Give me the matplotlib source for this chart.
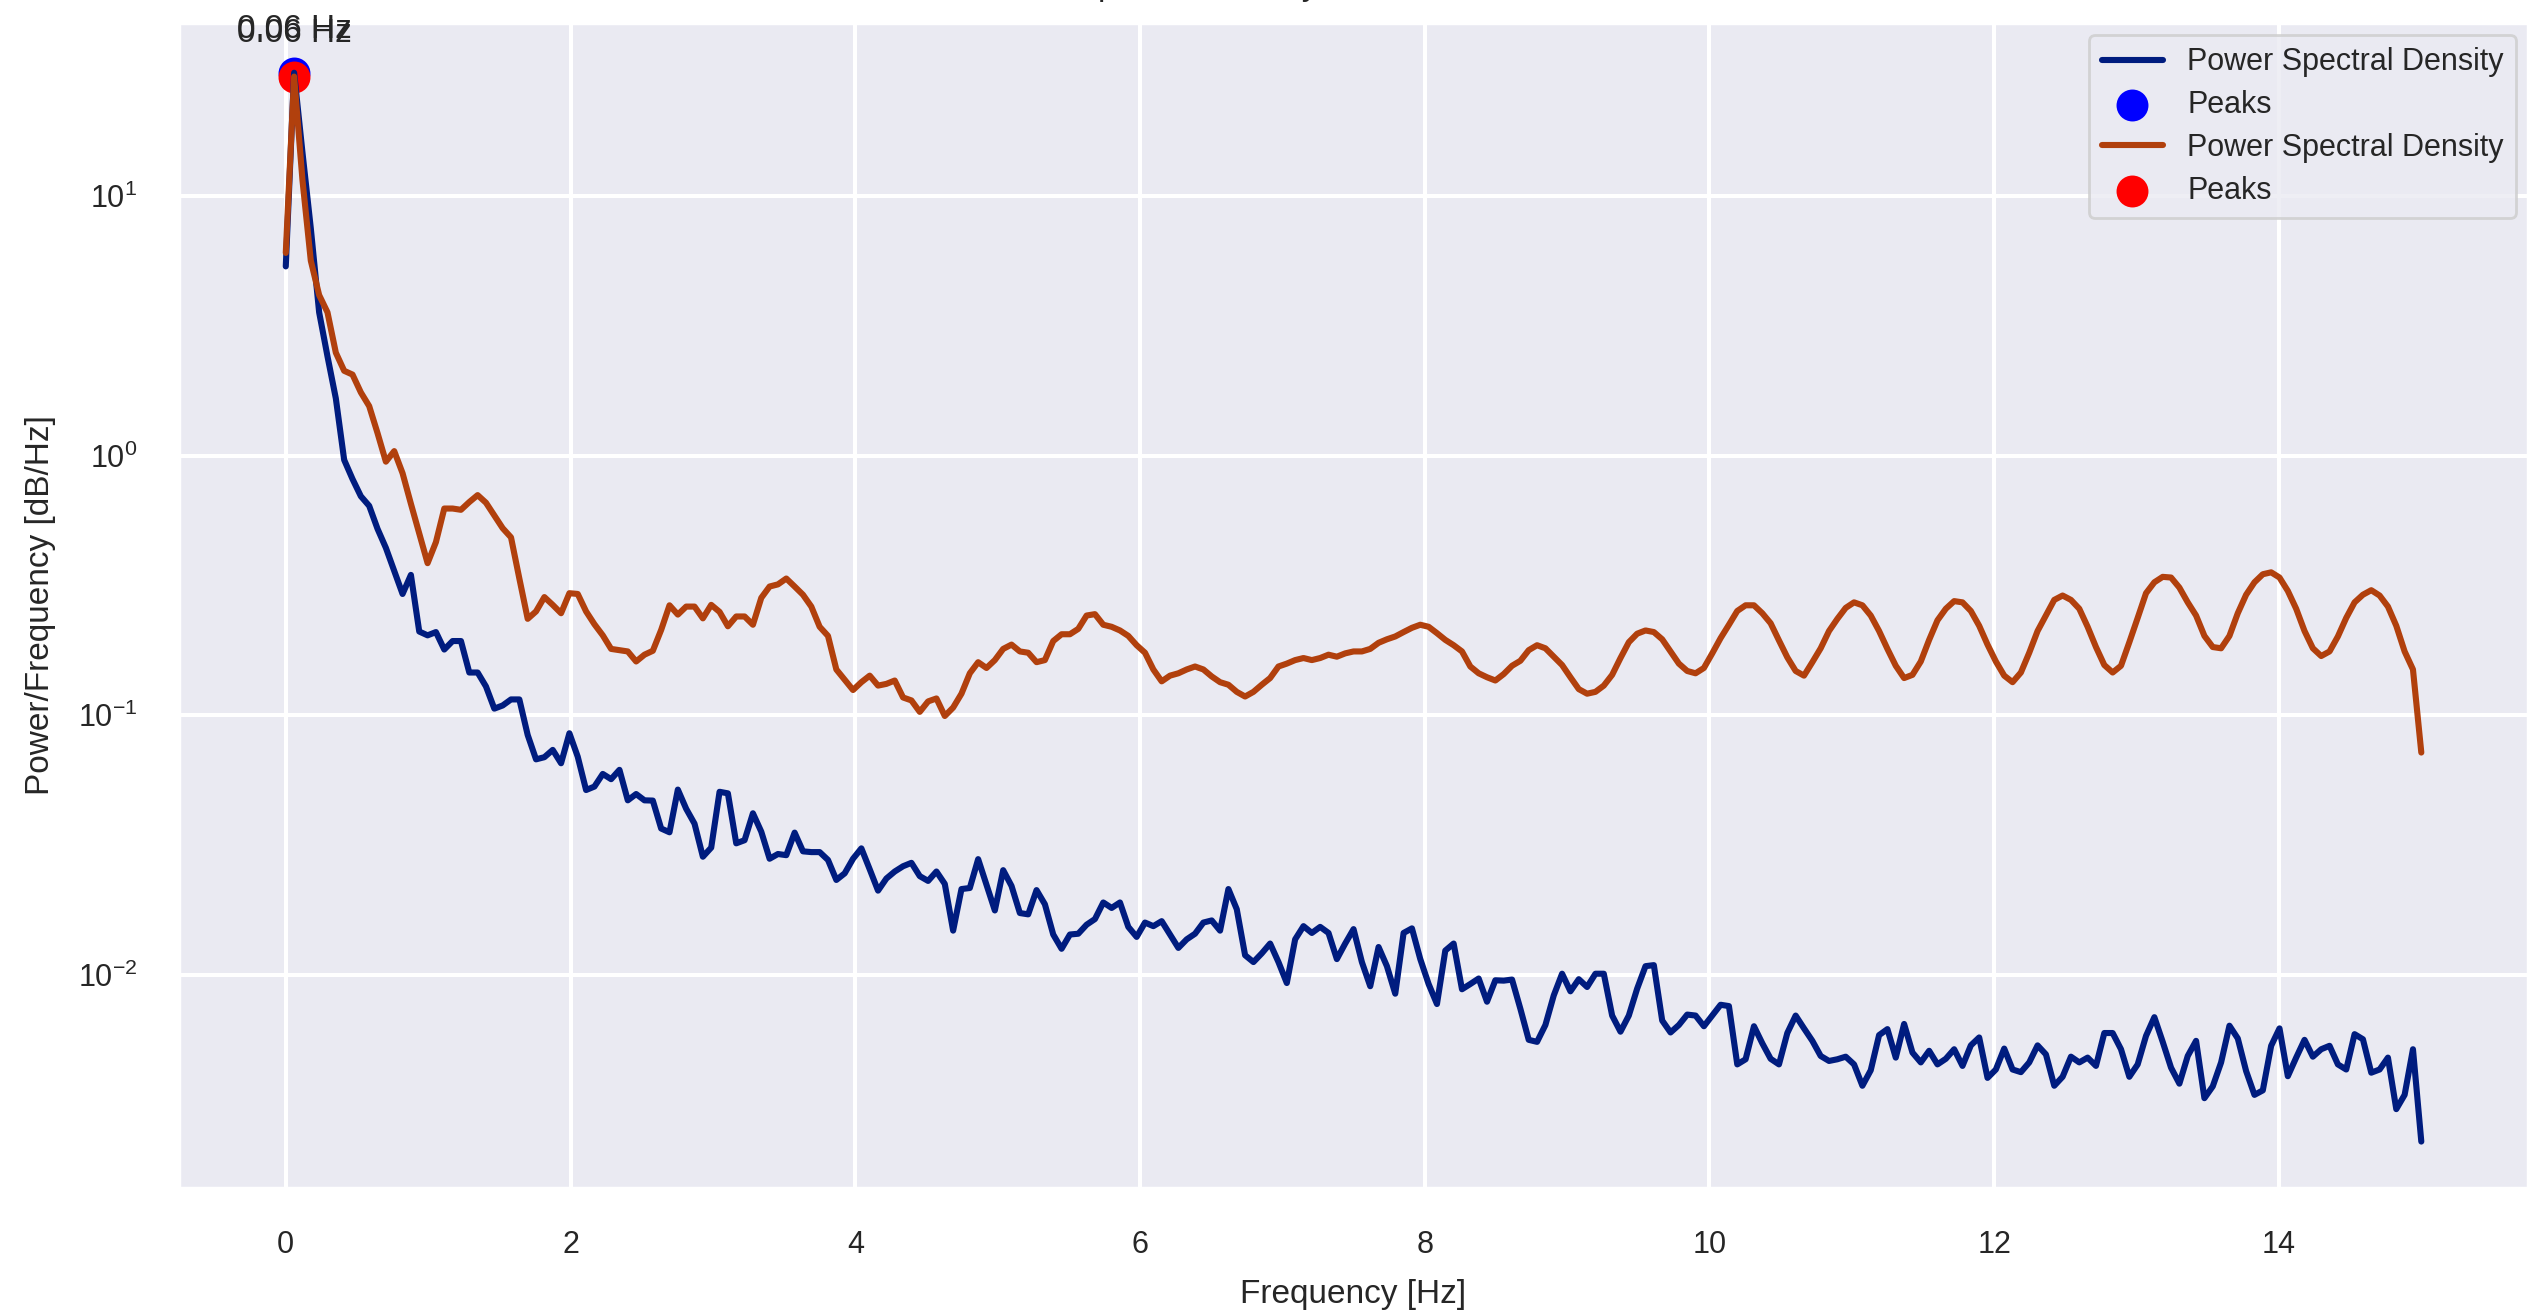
import numpy as np
import matplotlib
matplotlib.use("Agg")
import matplotlib.pyplot as plt
import seaborn as sns

# PSD values (257 Welch bins, 0..15 Hz)
psd_a = [
    5.35, 29.8, 14.7, 7.5, 3.56, 2.41, 1.66, 0.962, 0.812, 0.697,
    0.640, 0.522, 0.441, 0.359, 0.293, 0.347, 0.210, 0.203, 0.209, 0.179,
    0.193, 0.193, 0.146, 0.146, 0.129, 0.106, 0.109, 0.115, 0.115, 0.0839,
    0.0676, 0.0689, 0.0735, 0.0653, 0.0852, 0.0692, 0.0515, 0.0531, 0.0594, 0.0567,
    0.0616, 0.0470, 0.0497, 0.0470, 0.0469, 0.0366, 0.0354, 0.0517, 0.0436, 0.0382,
    0.0285, 0.0309, 0.0507, 0.0500, 0.0321, 0.0330, 0.0419, 0.0356, 0.0280, 0.0292,
    0.0289, 0.0353, 0.0299, 0.0297, 0.0297, 0.0277, 0.0232, 0.0246, 0.0280, 0.0307,
    0.0255, 0.0211, 0.0235, 0.0250, 0.0262, 0.0270, 0.0240, 0.0230, 0.0250, 0.0224,
    0.0148, 0.0214, 0.0216, 0.0279, 0.0222, 0.0177, 0.0253, 0.0220, 0.0173, 0.0171,
    0.0212, 0.0187, 0.0143, 0.0126, 0.0143, 0.0144, 0.0156, 0.0164, 0.0190, 0.0181,
    0.0190, 0.0153, 0.0140, 0.0159, 0.0154, 0.0161, 0.0143, 0.0127, 0.0137, 0.0144,
    0.0159, 0.0162, 0.0148, 0.0214, 0.0179, 0.0119, 0.0112, 0.0121, 0.0132, 0.0112,
    0.00930, 0.0137, 0.0154, 0.0145, 0.0153, 0.0145, 0.0115, 0.0132, 0.0150, 0.0112,
    0.00904, 0.0128, 0.0108, 0.00846, 0.0145, 0.0151, 0.0115, 0.00922, 0.00772, 0.0124,
    0.0132, 0.00880, 0.00922, 0.00968, 0.00788, 0.00953, 0.00950, 0.00959, 0.00740, 0.00562,
    0.00552, 0.00641, 0.00833, 0.0101, 0.00864, 0.00962, 0.00898, 0.0101, 0.0101, 0.00697,
    0.00604, 0.00697, 0.00885, 0.0108, 0.0109, 0.00667, 0.00600, 0.00641, 0.00703, 0.00697,
    0.00634, 0.00697, 0.00767, 0.00758, 0.00452, 0.00473, 0.00634, 0.00545, 0.00475, 0.00452,
    0.00597, 0.00697, 0.00622, 0.00557, 0.00487, 0.00466, 0.00473, 0.00484, 0.00452, 0.00374,
    0.00429, 0.00586, 0.00618, 0.00480, 0.00647, 0.00502, 0.00460, 0.00510, 0.00452, 0.00475,
    0.00517, 0.00446, 0.00535, 0.00574, 0.00401, 0.00432, 0.00520, 0.00432, 0.00422, 0.00460,
    0.00535, 0.00494, 0.00374, 0.00405, 0.00484, 0.00460, 0.00480, 0.00446, 0.00597, 0.00597,
    0.00517, 0.00405, 0.00452, 0.00582, 0.00687, 0.00552, 0.00439, 0.00381, 0.00487, 0.00557,
    0.00335, 0.00372, 0.00460, 0.00637, 0.00569, 0.00426, 0.00345, 0.00359, 0.00533, 0.00622,
    0.00407, 0.00480, 0.00562, 0.00484, 0.00517, 0.00533, 0.00452, 0.00432, 0.00591, 0.00565,
    0.00420, 0.00432, 0.00480, 0.00304, 0.00345, 0.00517, 0.00228,
]

psd_b = [
    6.03, 28.8, 11.5, 5.63, 4.15, 3.56, 2.49, 2.12, 2.05, 1.75,
    1.55, 1.22, 0.947, 1.04, 0.855, 0.652, 0.501, 0.385, 0.464, 0.625,
    0.625, 0.618, 0.662, 0.704, 0.658, 0.588, 0.525, 0.484, 0.336, 0.235,
    0.251, 0.285, 0.266, 0.247, 0.295, 0.293, 0.251, 0.224, 0.203, 0.180,
    0.178, 0.176, 0.161, 0.171, 0.177, 0.213, 0.265, 0.244, 0.262, 0.262,
    0.236, 0.266, 0.250, 0.220, 0.240, 0.240, 0.223, 0.283, 0.313, 0.319,
    0.336, 0.313, 0.291, 0.262, 0.219, 0.202, 0.150, 0.137, 0.125, 0.134,
    0.142, 0.130, 0.132, 0.136, 0.117, 0.114, 0.103, 0.113, 0.116, 0.0993,
    0.107, 0.121, 0.145, 0.160, 0.152, 0.163, 0.180, 0.187, 0.176, 0.174,
    0.160, 0.163, 0.193, 0.205, 0.205, 0.215, 0.242, 0.245, 0.223, 0.219,
    0.212, 0.202, 0.186, 0.174, 0.150, 0.135, 0.142, 0.145, 0.150, 0.154,
    0.150, 0.141, 0.134, 0.131, 0.123, 0.118, 0.123, 0.131, 0.139, 0.154,
    0.158, 0.163, 0.166, 0.163, 0.166, 0.171, 0.168, 0.173, 0.176, 0.176,
    0.180, 0.190, 0.196, 0.201, 0.209, 0.217, 0.223, 0.219, 0.207, 0.195,
    0.186, 0.176, 0.154, 0.145, 0.140, 0.136, 0.144, 0.155, 0.162, 0.178,
    0.186, 0.181, 0.168, 0.156, 0.140, 0.126, 0.121, 0.123, 0.130, 0.143,
    0.166, 0.191, 0.206, 0.212, 0.209, 0.196, 0.176, 0.158, 0.148, 0.145,
    0.152, 0.173, 0.198, 0.223, 0.252, 0.265, 0.265, 0.247, 0.226, 0.194,
    0.167, 0.148, 0.142, 0.160, 0.181, 0.211, 0.235, 0.259, 0.272, 0.265,
    0.242, 0.211, 0.180, 0.155, 0.139, 0.143, 0.161, 0.195, 0.232, 0.257,
    0.275, 0.272, 0.252, 0.221, 0.187, 0.161, 0.142, 0.134, 0.146, 0.174,
    0.211, 0.242, 0.278, 0.289, 0.278, 0.257, 0.219, 0.183, 0.156, 0.146,
    0.155, 0.191, 0.237, 0.295, 0.325, 0.341, 0.339, 0.310, 0.272, 0.242,
    0.202, 0.183, 0.181, 0.202, 0.247, 0.291, 0.325, 0.349, 0.355, 0.339,
    0.301, 0.257, 0.211, 0.181, 0.169, 0.176, 0.201, 0.237, 0.272, 0.291,
    0.303, 0.289, 0.262, 0.221, 0.176, 0.150, 0.0718,
]

# frequency bins of the PSD, 0 to 15 Hz
freqs = np.linspace(0, 15, len(psd_a))

sns.set_theme(style="darkgrid", palette="dark")
plt.rcParams["font.family"] = ["Liberation Sans", "DejaVu Sans"]

fig = plt.figure(figsize=(12.695, 6.555), dpi=200)
ax = fig.add_axes([0.0705, 0.0938, 0.9252, 0.8887])

line_colors = sns.color_palette("dark")
for psd, lc, pc in [(psd_a, line_colors[0], "blue"), (psd_b, line_colors[1], "red")]:
    psd = np.array(psd)
    ax.plot(freqs, psd, color=lc, linewidth=2.2, label="Power Spectral Density")
    p = np.argmax(psd)
    ax.scatter(freqs[p], psd[p], color=pc, s=110, label="Peaks")
    ax.annotate(f"{freqs[p]:.2f} Hz", (freqs[p], psd[p]),
                textcoords="offset points", xytext=(0, 10),
                ha="center", va="bottom", fontsize=12, color=".15")

ax.set_yscale("log")
ax.set_ylim(10 ** -2.821, 10 ** 1.666)
ax.grid(linewidth=1.45)
ax.tick_params(length=0, pad=15, labelsize=11)
ax.set_xlabel("Frequency [Hz]", fontsize=12, labelpad=7)
ax.set_ylabel("Power/Frequency [dB/Hz]", fontsize=12, labelpad=8)
ax.legend(loc="upper right", fontsize=11, borderaxespad=0.4, labelspacing=0.42)

# title sits mostly above the canvas, as in the reference
fig.text(1145 / 2539, 1.0038, "Power Spectral Density", ha="center",
         va="baseline", fontsize=12, color=".15")

fig.savefig("out.png", dpi=200)
